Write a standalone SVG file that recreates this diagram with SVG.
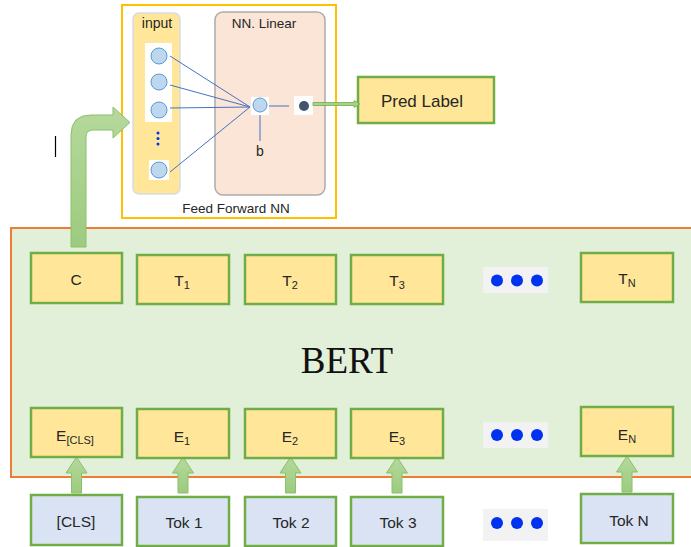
<svg xmlns="http://www.w3.org/2000/svg" width="691" height="547" viewBox="0 0 691 547">
<defs>
<linearGradient id="gup" x1="0" y1="0" x2="0" y2="1">
<stop offset="0" stop-color="#B5D99C"/><stop offset="1" stop-color="#9CCB7E"/>
</linearGradient>
<style>
.box{stroke:#70AD47;stroke-width:2.5}
.y{fill:#FFE699}
.b{fill:#DAE3F3}
.t{font-family:"Liberation Sans",Arial,sans-serif;font-size:15.5px;fill:#262626;text-anchor:middle}
.s{font-size:11px}
.up{fill:url(#gup);stroke:#8CC06C;stroke-width:1}
.dots{fill:#F2F2F2}
.dot{fill:#0033F0}
.wl{stroke:#4472C4;stroke-width:1}
.nc{fill:#BDD7EE;stroke:#5B9BD5;stroke-width:1}
</style>
</defs>
<rect width="691" height="547" fill="#FFFFFF"/>

<g id="ffnn">
<rect x="122" y="5" width="214" height="213" fill="#FFFFFF" stroke="#FFC000" stroke-width="2"/>
<text class="t" x="236" y="213" style="font-size:13.5px">Feed Forward NN</text>
</g>
<g id="input">
<rect x="133" y="13" width="47" height="181" rx="6" fill="#FFE699" stroke="#D6DCE5" stroke-width="1.5"/>
<text class="t" x="157" y="28" style="font-size:14px">input</text>
<rect x="145" y="43" width="27" height="79" fill="#FFFFFF"/>
<circle class="nc" cx="159" cy="56" r="8"/>
<circle class="nc" cx="159" cy="82" r="8"/>
<circle class="nc" cx="159" cy="110" r="8"/>
<circle cx="158" cy="133" r="1.5" fill="#0033F0"/>
<circle cx="158" cy="138.5" r="1.5" fill="#0033F0"/>
<circle cx="158" cy="144" r="1.5" fill="#0033F0"/>
<rect x="149" y="160" width="20" height="20" fill="#FFFFFF"/>
<circle class="nc" cx="159" cy="170" r="8"/>
</g>
<g id="linear">
<rect x="215" y="12" width="110" height="183" rx="8" fill="#FBE5D6" stroke="#AFABAB" stroke-width="1.5"/>
<text class="t" x="264" y="28" style="font-size:13.5px">NN. Linear</text>
<line class="wl" x1="170" y1="56" x2="250" y2="107"/>
<line class="wl" x1="170" y1="85" x2="250" y2="107"/>
<line class="wl" x1="170" y1="108" x2="250" y2="107"/>
<line class="wl" x1="170" y1="172" x2="250" y2="107"/>
<line class="wl" x1="269" y1="106" x2="289" y2="106"/>
<line class="wl" x1="260" y1="113" x2="260" y2="141"/>
<rect x="251" y="97" width="18" height="18" fill="#FFFFFF"/>
<circle class="nc" cx="260" cy="105" r="7"/>
<text class="t" x="260" y="156" style="font-size:14px">b</text>
<rect x="294" y="96" width="19" height="19" fill="#FFFFFF"/>
<circle cx="304" cy="106" r="5" fill="#44546A"/>
</g>
<g id="pred">
<rect class="box y" x="358" y="77" width="136" height="46" stroke-width="2"/>
<text class="t" x="422" y="107" style="font-size:17px">Pred Label</text>
</g>

<g id="bert">
<rect x="11" y="228" width="690" height="249" fill="#E2F0D9" stroke="#ED7D31" stroke-width="2"/>
<text x="347" y="373" font-family="'Liberation Serif','Times New Roman',serif" font-size="37" text-anchor="middle" fill="#111">BERT</text>
</g>

<g id="connectors">
<path d="M313,102.5 L354,102.5 L354,100.5 L360,104 L354,107.5 L354,105.5 L313,105.5 Z" fill="#A9D18E" stroke="#70AD47" stroke-width="0.8"/>
<path class="up" d="M71,247 L71,135 Q71,115 91,115 L113,115 L113,107 L130,122.5 L113,138 L113,130 L93,130 Q86,130 86,137 L86,247 Z"/>
<path class="up" d="M71.5,493 L71.5,473 L66,473 L76.5,457 L87,473 L81.5,473 L81.5,493 Z"/>
<path class="up" d="M178,493 L178,473 L172.5,473 L183,457 L193.5,473 L188,473 L188,493 Z"/>
<path class="up" d="M285.5,493 L285.5,473 L280,473 L290.5,457 L301,473 L295.5,473 L295.5,493 Z"/>
<path class="up" d="M392,493 L392,473 L386.5,473 L397,457 L407.5,473 L402,473 L402,493 Z"/>
<path class="up" d="M622,492 L622,472 L616.5,472 L627,456 L637.5,472 L632,472 L632,492 Z"/>
</g>
<line x1="55.5" y1="136" x2="55.5" y2="157" stroke="#000" stroke-width="1.2"/>

<g id="C"><rect class="box y" x="31" y="253" width="91" height="50"/><text class="t" x="76" y="285">C</text></g>
<g id="T1"><rect class="box y" x="137" y="255" width="92" height="49"/><text class="t" x="182" y="286">T<tspan class="s" dy="3">1</tspan></text></g>
<g id="T2"><rect class="box y" x="245" y="255" width="91" height="49"/><text class="t" x="290" y="286">T<tspan class="s" dy="3">2</tspan></text></g>
<g id="T3"><rect class="box y" x="351" y="255" width="92" height="49"/><text class="t" x="397" y="286">T<tspan class="s" dy="3">3</tspan></text></g>
<g id="dotsT"><rect class="dots" x="483" y="267" width="65" height="26"/><circle class="dot" cx="497" cy="280.5" r="6"/><circle class="dot" cx="517" cy="280.5" r="6"/><circle class="dot" cx="537" cy="280.5" r="6"/></g>
<g id="TN"><rect class="box y" x="581" y="253" width="92" height="49"/><text class="t" x="627" y="284">T<tspan class="s" dy="3">N</tspan></text></g>

<g id="ECLS"><rect class="box y" x="31" y="408" width="91" height="49"/><text class="t" x="75" y="441">E<tspan class="s" dy="3">[CLS]</tspan></text></g>
<g id="E1"><rect class="box y" x="137" y="409" width="92" height="49"/><text class="t" x="182" y="442">E<tspan class="s" dy="3">1</tspan></text></g>
<g id="E2"><rect class="box y" x="245" y="409" width="91" height="49"/><text class="t" x="290" y="442">E<tspan class="s" dy="3">2</tspan></text></g>
<g id="E3"><rect class="box y" x="351" y="409" width="92" height="49"/><text class="t" x="397" y="442">E<tspan class="s" dy="3">3</tspan></text></g>
<g id="dotsE"><rect class="dots" x="483" y="422" width="65" height="26"/><circle class="dot" cx="497" cy="435" r="6"/><circle class="dot" cx="517" cy="435" r="6"/><circle class="dot" cx="537" cy="435" r="6"/></g>
<g id="EN"><rect class="box y" x="581" y="407" width="92" height="49"/><text class="t" x="627" y="440">E<tspan class="s" dy="3">N</tspan></text></g>

<g id="CLS"><rect class="box b" x="31" y="495" width="91" height="50"/><text class="t" x="76" y="527">[CLS]</text></g>
<g id="Tok1"><rect class="box b" x="137" y="497" width="92" height="49"/><text class="t" x="184" y="528">Tok 1</text></g>
<g id="Tok2"><rect class="box b" x="245" y="497" width="91" height="49"/><text class="t" x="291" y="528">Tok 2</text></g>
<g id="Tok3"><rect class="box b" x="351" y="497" width="92" height="49"/><text class="t" x="398" y="528">Tok 3</text></g>
<g id="dotsTok"><rect class="dots" x="483" y="509" width="65" height="32"/><circle class="dot" cx="497" cy="523" r="6"/><circle class="dot" cx="517" cy="523" r="6"/><circle class="dot" cx="537" cy="523" r="6"/></g>
<g id="TokN"><rect class="box b" x="581" y="494" width="92" height="49"/><text class="t" x="629" y="526">Tok N</text></g>
</svg>
